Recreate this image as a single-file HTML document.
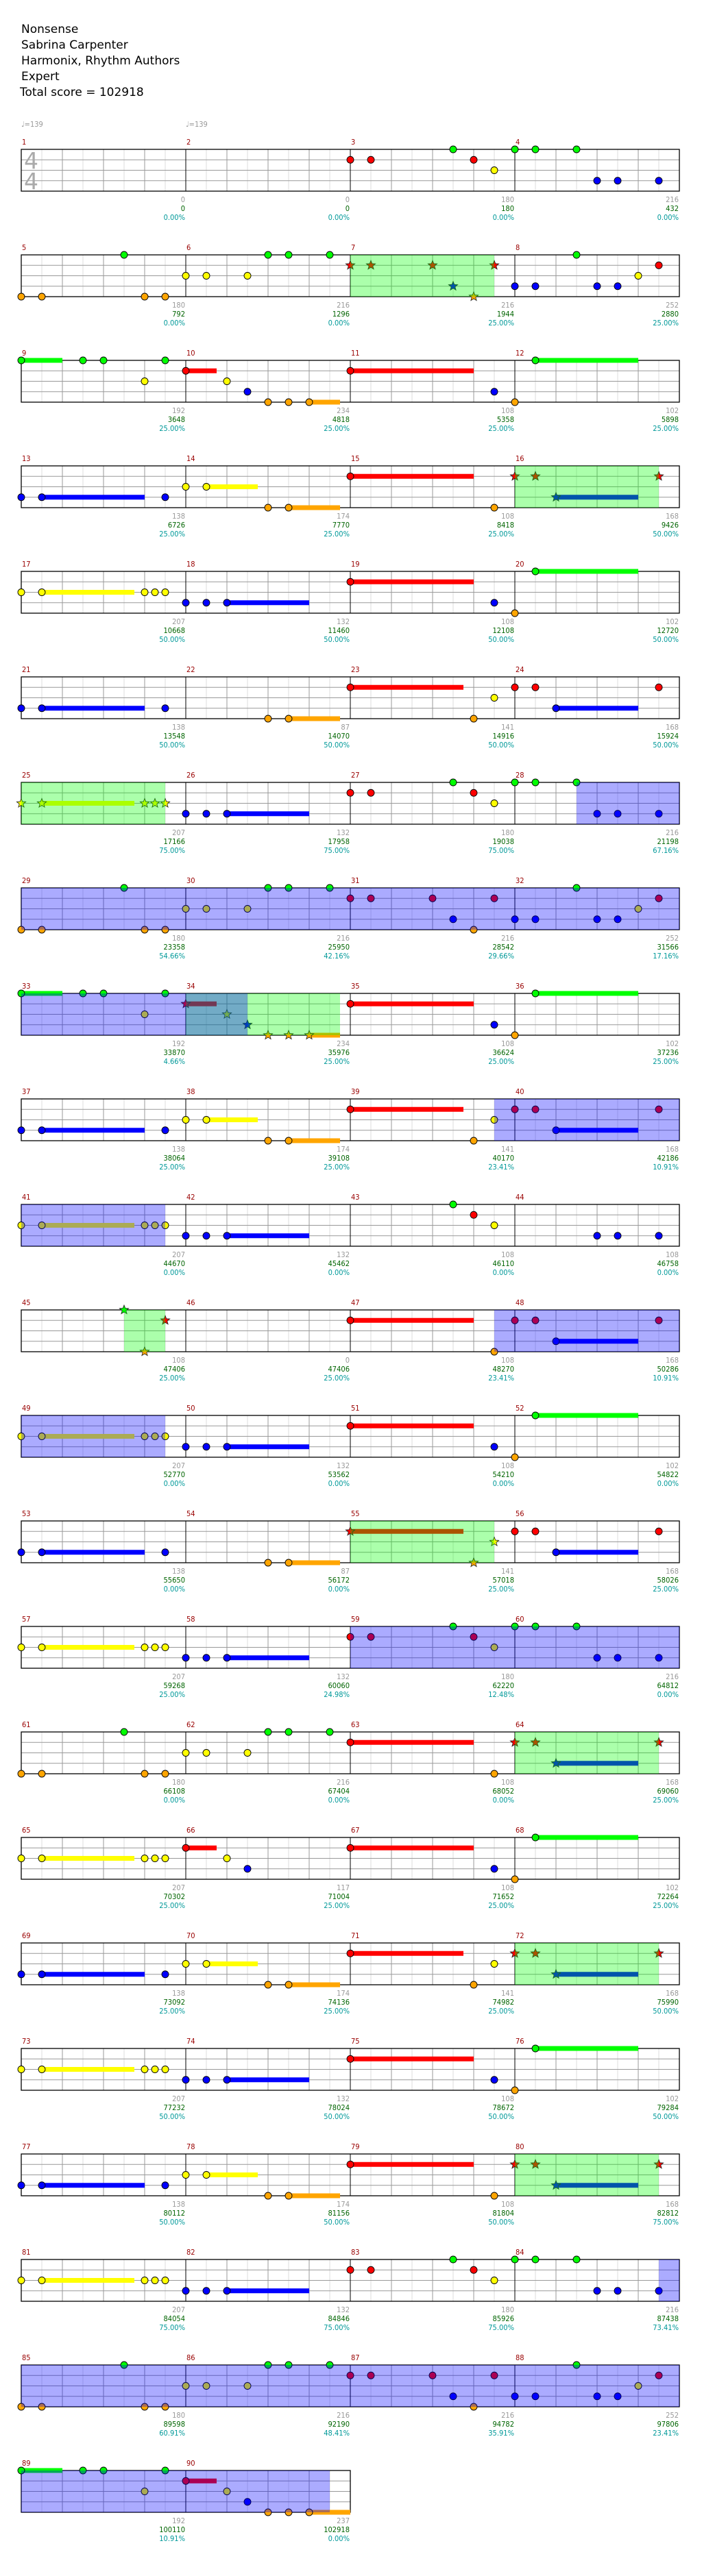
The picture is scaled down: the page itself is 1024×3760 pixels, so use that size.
<!DOCTYPE html>
<html><head><meta charset="utf-8"><title>Nonsense - Expert chart</title>
<style>
html,body{margin:0;padding:0;background:#fff;}
svg{display:block;}
.t{font-family:"DejaVu Sans","Liberation Sans",sans-serif;}
.n{font-family:"DejaVu Sans Condensed","DejaVu Sans","Liberation Sans",sans-serif;font-size:11px;}
</style></head>
<body>
<svg id="chart" width="1024" height="3760" viewBox="0 0 1024 3760" xmlns="http://www.w3.org/2000/svg">
<g class="t" font-size="17" fill="#000">
<text x="31" y="48">Nonsense</text>
<text x="31" y="71">Sabrina Carpenter</text>
<text x="31" y="94">Harmonix, Rhythm Authors</text>
<text x="31" y="117">Expert</text>
<text x="29" y="140">Total score = 102918</text>
</g>
<g class="n" font-size="10" fill="#999">
<text x="31" y="185">♩=139</text>
<text x="271" y="185">♩=139</text>
</g>
</svg>
<script>
// ---- chart data ----
// lanes: g=green(0) r=red(1) y=yellow(2) b=blue(3) o=orange(4); "pos[lane][-sustainEnd]" in 16ths
const measureNotes = [
"", "", "0r 2r 10g 12r 14y", "0g 2g 6g 8b 10b 14b",
"0o 2o 10g 12o 14o", "0y 2y 6y 8g 10g 14g", "0r 2r 8r 10b 12o 14r", "0b 2b 6g 8b 10b 12y 14r",
"0g-4 6g 8g 12y 14g", "0r-3 4y 6b 8o 10o 12o-15", "0r-12 14b", "0o 2g-12",
"0b 2b-12 14b", "0y 2y-7 8o 10o-15", "0r-12 14o", "0r 2r 4b-12 14r",
"0y 2y-11 12y 13y 14y", "0b 2b 4b-12", "0r-12 14b", "0o 2g-12",
"0b 2b-12 14b", "8o 10o-15", "0r-11 12o 14y", "0r 2r 4b-12 14r",
"0y 2y-11 12y 13y 14y", "0b 2b 4b-12", "0r 2r 10g 12r 14y", "0g 2g 6g 8b 10b 14b",
"0o 2o 10g 12o 14o", "0y 2y 6y 8g 10g 14g", "0r 2r 8r 10b 12o 14r", "0b 2b 6g 8b 10b 12y 14r",
"0g-4 6g 8g 12y 14g", "0r-3 4y 6b 8o 10o 12o-15", "0r-12 14b", "0o 2g-12",
"0b 2b-12 14b", "0y 2y-7 8o 10o-15", "0r-11 12o 14y", "0r 2r 4b-12 14r",
"0y 2y-11 12y 13y 14y", "0b 2b 4b-12", "10g 12r 14y", "8b 10b 14b",
"10g 12o 14r", "", "0r-12 14o", "0r 2r 4b-12 14r",
"0y 2y-11 12y 13y 14y", "0b 2b 4b-12", "0r-12 14b", "0o 2g-12",
"0b 2b-12 14b", "8o 10o-15", "0r-11 12o 14y", "0r 2r 4b-12 14r",
"0y 2y-11 12y 13y 14y", "0b 2b 4b-12", "0r 2r 10g 12r 14y", "0g 2g 6g 8b 10b 14b",
"0o 2o 10g 12o 14o", "0y 2y 6y 8g 10g 14g", "0r-12 14o", "0r 2r 4b-12 14r",
"0y 2y-11 12y 13y 14y", "0r-3 4y 6b", "0r-12 14b", "0o 2g-12",
"0b 2b-12 14b", "0y 2y-7 8o 10o-15", "0r-11 12o 14y", "0r 2r 4b-12 14r",
"0y 2y-11 12y 13y 14y", "0b 2b 4b-12", "0r-12 14b", "0o 2g-12",
"0b 2b-12 14b", "0y 2y-7 8o 10o-15", "0r-12 14o", "0r 2r 4b-12 14r",
"0y 2y-11 12y 13y 14y", "0b 2b 4b-12", "0r 2r 10g 12r 14y", "0g 2g 6g 8b 10b 14b",
"0o 2o 10g 12o 14o", "0y 2y 6y 8g 10g 14g", "0r 2r 8r 10b 12o 14r", "0b 2b 6g 8b 10b 12y 14r",
"0g-4 6g 8g 12y 14g", "0r-3 4y 6b 8o 10o 12o-16"
];
// star power phrases: [measure, pos, measure, pos]
const starRegions = [[7,0,7,14],[16,0,16,14],[25,0,25,14],[34,0,34,15],[45,10,45,14],[55,0,55,14],[64,0,64,14],[72,0,72,14],[80,0,80,14]];
// overdrive activations: [measure, pos, measure, pos]
const odRegions = [[28,6,34,6],[39,14,41,14],[47,14,49,14],[59,0,60,16],[84,14,90,14]];
const measureScore = [0,0,180,216,180,216,216,252,192,234,108,102,138,174,108,168,207,132,108,102,138,87,141,168,207,132,180,216,180,216,216,252,192,234,108,102,138,174,141,168,207,132,108,108,108,0,108,168,207,132,108,102,138,87,141,168,207,132,180,216,180,216,108,168,207,117,108,102,138,174,141,168,207,132,108,102,138,174,108,168,207,132,180,216,180,216,216,252,192,237];
const totalScore = [0,0,180,432,792,1296,1944,2880,3648,4818,5358,5898,6726,7770,8418,9426,10668,11460,12108,12720,13548,14070,14916,15924,17166,17958,19038,21198,23358,25950,28542,31566,33870,35976,36624,37236,38064,39108,40170,42186,44670,45462,46110,46758,47406,47406,48270,50286,52770,53562,54210,54822,55650,56172,57018,58026,59268,60060,62220,64812,66108,67404,68052,69060,70302,71004,71652,72264,73092,74136,74982,75990,77232,78024,78672,79284,80112,81156,81804,82812,84054,84846,85926,87438,89598,92190,94782,97806,100110,102918];
const percentLabels = ["0.00%","0.00%","0.00%","0.00%","0.00%","0.00%","25.00%","25.00%","25.00%","25.00%","25.00%","25.00%","25.00%","25.00%","25.00%","50.00%","50.00%","50.00%","50.00%","50.00%","50.00%","50.00%","50.00%","50.00%","75.00%","75.00%","75.00%","67.16%","54.66%","42.16%","29.66%","17.16%","4.66%","25.00%","25.00%","25.00%","25.00%","25.00%","23.41%","10.91%","0.00%","0.00%","0.00%","0.00%","25.00%","25.00%","23.41%","10.91%","0.00%","0.00%","0.00%","0.00%","0.00%","0.00%","25.00%","25.00%","25.00%","24.98%","12.48%","0.00%","0.00%","0.00%","0.00%","25.00%","25.00%","25.00%","25.00%","25.00%","25.00%","25.00%","25.00%","50.00%","50.00%","50.00%","50.00%","50.00%","50.00%","50.00%","50.00%","75.00%","75.00%","75.00%","75.00%","73.41%","60.91%","48.41%","35.91%","23.41%","10.91%","0.00%"];

// ---- layout ----
const NS = "http://www.w3.org/2000/svg";
const svg = document.getElementById('chart');
const LEFT = 31, MW = 240, TOP0 = 218, ROWH = 154, STEP = 15, LANE = 15.25, PER = 4;
const laneIdx = {g:0, r:1, y:2, b:3, o:4};
const laneColor = ["#00ff00","#ff0000","#ffff00","#0000ff","#ffa500"];
const nM = measureNotes.length;
function rowOf(m){ return Math.floor((m-1)/PER); }
function xPos(m,pos){ return LEFT + ((m-1)%PER)*MW + pos*STEP; }
function rowTop(r){ return TOP0 + r*ROWH; }
function yLane(m,l){ return rowTop(rowOf(m)) + l*LANE; }
function mk(tag, attrs, parent){ const e=document.createElementNS(NS,tag); for(const k in attrs) e.setAttribute(k,attrs[k]); (parent||svg).appendChild(e); return e; }
function gpos(m,p){ return (m-1)*16 + p; }
function inStar(m,p){ const g=gpos(m,p); return starRegions.some(s=>g>=gpos(s[0],s[1]) && g<=gpos(s[2],s[3])); }
function starPts(cx,cy,R,r){ let s=[]; for(let i=0;i<10;i++){ const a=-Math.PI/2+i*Math.PI/5, rr=i%2?r:R; s.push((cx+rr*Math.cos(a)).toFixed(2)+','+(cy+rr*Math.sin(a)).toFixed(2)); } return s.join(' '); }

const rows = Math.ceil(nM/PER);
for(let r=0;r<rows;r++){
  const g = mk('g',{});
  
  
  const top = rowTop(r), nm = Math.min(PER, nM - r*PER), w = nm*MW, bot = top+61;
  const bg = mk('rect',{x:LEFT,y:top,width:w,height:61,fill:'#fff'},g);
  
  
  for(let k=1;k<nm*8;k++){
    if(k%8===0) continue;
    const x = LEFT + k*30;
    const ln = mk('line',{x1:x,y1:top,x2:x,y2:bot,stroke:(k%2? '#dddddd':'#999999'),'stroke-width':1},g);
    
    
  }
  for(let l=1;l<4;l++){
    const ln = mk('line',{x1:LEFT,y1:top+l*LANE,x2:LEFT+w,y2:top+l*LANE,stroke:'#999999','stroke-width':1},g);
    
    
  }
  for(let k=1;k<nm;k++){
    const ln = mk('line',{x1:LEFT+k*MW,y1:top,x2:LEFT+k*MW,y2:bot,stroke:'#000','stroke-width':1},g);
    
    
  }
  const bd = mk('rect',{x:LEFT,y:top,width:w,height:61,fill:'none',stroke:'#000','stroke-width':1.3},g);
  
  
}

// time signature
const ts1 = mk('text',{x:35,y:246,'font-size':33,fill:'#aaaaaa','class':'t'}); ts1.textContent='4';


const ts2 = mk('text',{x:35,y:276,'font-size':33,fill:'#aaaaaa','class':'t'}); ts2.textContent='4';



// notes
for(let m=1;m<=nM;m++){
  const r=rowOf(m), top=rowTop(r), xe=xPos(m,16);
  const num = mk('text',{x:xPos(m,0)+1,y:top-7,fill:'#990000','class':'n'}); num.textContent=String(m);
  
  
  const items = measureNotes[m-1].trim() ? measureNotes[m-1].trim().split(/\s+/) : [];
  const parsed = items.map(s=>{ const mt=s.match(/^(\d+)([gryob])(?:-(\d+))?$/); return {p:+mt[1], l:laneIdx[mt[2]], e:mt[3]!==undefined?+mt[3]:null}; });
  parsed.forEach(n=>{ if(n.e!==null){
    const x1=xPos(m,n.p), x2=xPos(m,n.e), y=yLane(m,n.l);
    const s = mk('rect',{x:x1,y:y-3.5,width:x2-x1,height:7,fill:laneColor[n.l]});
    
    
  }});
  parsed.forEach(n=>{
    const x=xPos(m,n.p), y=yLane(m,n.l);
    if(inStar(m,n.p)){
      const st = mk('polygon',{points:starPts(x,y,7,3),fill:laneColor[n.l],stroke:'#222','stroke-width':0.8});
      
      
    } else {
      const c = mk('circle',{cx:x,cy:y,r:5,fill:laneColor[n.l],stroke:'#000','stroke-width':0.9});
      
      
    }
  });
  const t1 = mk('text',{x:xe-1,y:top+77,fill:'#999999','text-anchor':'end','class':'n'}); t1.textContent=String(measureScore[m-1]);
  
  
  const t2 = mk('text',{x:xe-1,y:top+90,fill:'#006400','text-anchor':'end','class':'n'}); t2.textContent=String(totalScore[m-1]);
  
  
  const t3 = mk('text',{x:xe-1,y:top+103,fill:'#009999','text-anchor':'end','class':'n'}); t3.textContent=percentLabels[m-1];
  
  
}

// region overlays (split per row)
function drawRegion(reg, color, name){
  let g0=gpos(reg[0],reg[1]), g1=gpos(reg[2],reg[3]);
  while(g0<g1){
    const r=Math.floor(g0/64), rowEnd=(r+1)*64, segEnd=Math.min(g1,rowEnd);
    const x1=LEFT+(g0-r*64)*STEP, x2=LEFT+(segEnd-r*64)*STEP;
    const rc = mk('rect',{x:x1,y:rowTop(r),width:x2-x1,height:61,fill:color});
    
    
    g0=segEnd;
  }
}
starRegions.forEach(s=>drawRegion(s,'rgba(0,255,0,0.33)','star-power-phrase'));
odRegions.forEach(s=>drawRegion(s,'rgba(0,0,255,0.33)','overdrive-activation'));
</script>
</body></html>
